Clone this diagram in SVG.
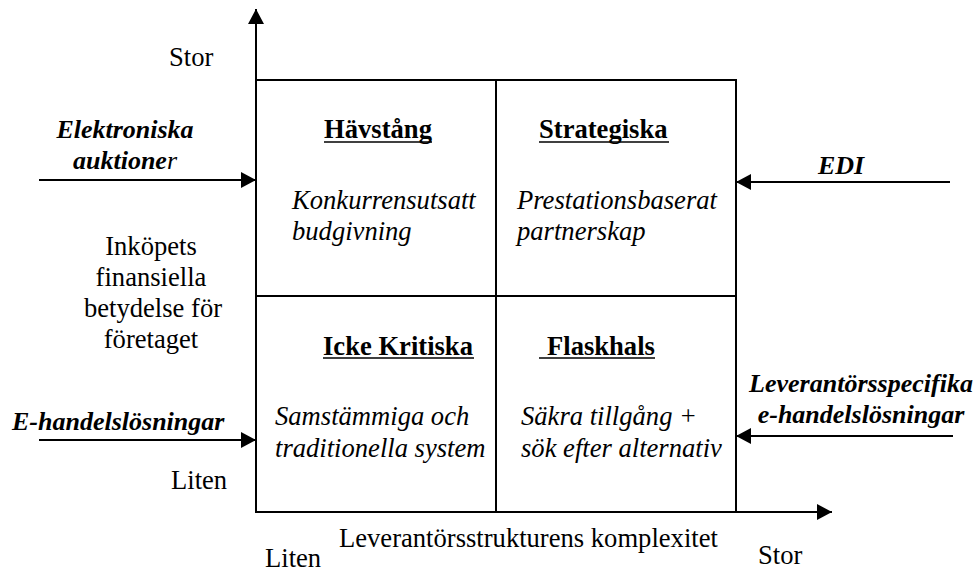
<svg xmlns="http://www.w3.org/2000/svg" width="979" height="573" viewBox="0 0 979 573">
  <style>
    text { font-family: 'Liberation Serif', 'DejaVu Serif', serif; font-size: 26.6px; fill: #000; }
    .b { font-weight: bold; }
    .i { font-style: italic; }
    .bi { font-weight: bold; font-style: italic; font-size: 26px; }
    .c { text-anchor: middle; }
    .line { stroke: #000; stroke-width: 2; fill: none; }
    .ul { stroke: #000; stroke-width: 1.5; }
    .arrow { stroke: #000; stroke-width: 2; fill: none; marker-end: url(#head); }
  </style>
  <defs>
    <marker id="head" markerUnits="userSpaceOnUse" markerWidth="16" markerHeight="16" refX="15" refY="8" orient="auto">
      <path d="M0,0 L15,8 L0,16 z" fill="#000"/>
    </marker>
  </defs>
  <rect width="979" height="573" fill="#fff"/>

  <!-- axes -->
  <g id="axes">
    <line class="arrow" x1="256" y1="513" x2="256" y2="9"/>
    <line class="arrow" x1="255" y1="512" x2="832" y2="512"/>
    <text x="169" y="66">Stor</text>
    <text x="171" y="489">Liten</text>
    <text x="265" y="567">Liten</text>
    <text x="758" y="564">Stor</text>
    <text x="339" y="547">Leverantörsstrukturens komplexitet</text>
    <text class="c" x="151" y="255">Inköpets</text>
    <text class="c" x="151" y="286">finansiella</text>
    <text class="c" x="153" y="317">betydelse för</text>
    <text class="c" x="151" y="348">företaget</text>
  </g>

  <!-- matrix frame -->
  <g id="grid">
    <rect class="line" x="256" y="80" width="480" height="432"/>
    <line class="line" x1="496" y1="80" x2="496" y2="512"/>
    <line class="line" x1="256" y1="296" x2="736" y2="296"/>
  </g>

  <g id="havstang">
    <text class="b c" x="378" y="138">Hävstång</text>
    <line class="ul" x1="324" y1="142" x2="432" y2="142"/>
    <text class="i" x="292" y="209">Konkurrensutsatt</text>
    <text class="i" x="292" y="240">budgivning</text>
  </g>

  <g id="strategiska">
    <text class="b" x="539" y="138">Strategiska</text>
    <line class="ul" x1="539" y1="142" x2="669" y2="142"/>
    <text class="i" x="517" y="209">Prestationsbaserat</text>
    <text class="i" x="517" y="240">partnerskap</text>
  </g>

  <g id="icke-kritiska">
    <text class="b" x="323" y="355">Icke Kritiska</text>
    <line class="ul" x1="323" y1="358" x2="474" y2="358"/>
    <text class="i" x="275" y="425">Samstämmiga och</text>
    <text class="i" x="275" y="457">traditionella system</text>
  </g>

  <g id="flaskhals">
    <text class="b" x="547" y="355">Flaskhals</text>
    <line class="ul" x1="539" y1="358" x2="655" y2="358"/>
    <text class="i" x="521" y="425">Säkra tillgång +</text>
    <text class="i" x="521" y="457">sök efter alternativ</text>
  </g>

  <g id="elektroniska-auktioner">
    <text class="bi c" x="125" y="138">Elektroniska</text>
    <text class="bi c" x="125" y="169">auktione<tspan class="i" font-weight="normal">r</tspan></text>
  </g>

  <g id="edi">
    <text class="bi" x="818" y="174">EDI</text>
  </g>

  <g id="e-handelslosningar">
    <text class="bi" x="12" y="430">E-handelslösningar</text>
  </g>

  <g id="leverantorsspecifika">
    <text class="bi c" x="861" y="392">Leverantörsspecifika</text>
    <text class="bi c" x="861" y="423">e-handelslösningar</text>
  </g>

  <!-- connectors -->
  <g id="connectors">
    <line class="arrow" x1="39" y1="180" x2="256" y2="180"/>
    <line class="arrow" x1="950" y1="182" x2="736" y2="182"/>
    <line class="arrow" x1="39" y1="440" x2="256" y2="440"/>
    <line class="arrow" x1="953" y1="436" x2="736" y2="436"/>
  </g>
</svg>
